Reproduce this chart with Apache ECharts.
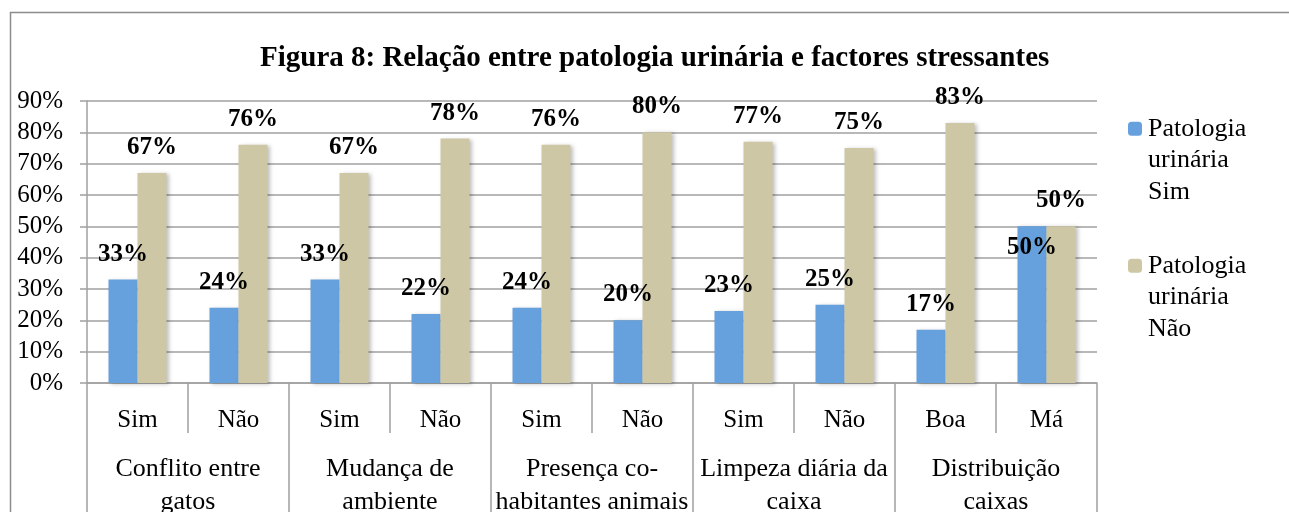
<!DOCTYPE html>
<html>
<head>
<meta charset="utf-8">
<title>Figura 8</title>
<script src="https://cdn.jsdelivr.net/npm/echarts@6/dist/echarts.min.js"></script>
<style>
    html, body { margin: 0; padding: 0; background: #fff; }
    #chart { width: 1289px; height: 512px; }
</style>
</head>
<body>
<div id="chart"></div>
<script>
//分类数据
var subCategories = ['Sim', 'Não', 'Sim', 'Não', 'Sim', 'Não', 'Sim', 'Não', 'Boa', 'Má'];
var groupCategories = ['Conflito entre\ngatos', 'Mudança de\nambiente', 'Presença co-\nhabitantes animais', 'Limpeza diária da\ncaixa', 'Distribuição\ncaixas'];
//系列数据(%)
var seriesNames = ['Patologia\nurinária\nSim', 'Patologia\nurinária\nNão'];
var valuesSim = [33, 24, 33, 22, 24, 20, 23, 25, 17, 50];
var valuesNao = [67, 76, 67, 78, 76, 80, 77, 75, 83, 50];
var yTicks = [0, 10, 20, 30, 40, 50, 60, 70, 80, 90];

var FONT = '"Liberation Serif", "DejaVu Serif", serif';
var LINE = '#a0a0a0';

var chartManager = {
    initPage: function () {
        var myChart = echarts.init(document.getElementById('chart'));
        myChart.setOption(chartManager.buildOption());
    },
    //数据标签
    barLabel: function () {
        return {
            show: true,
            position: 'top',
            distance: 13,
            formatter: '{c}%',
            color: '#000',
            fontFamily: FONT,
            fontWeight: 'bold',
            fontSize: 25
        };
    },
    //图例，两个独立图例，文字第一行对齐图标
    buildLegend: function (name, top) {
        return {
            data: [name],
            orient: 'vertical',
            left: 1128,
            top: top,
            itemWidth: 14,
            itemHeight: 14,
            itemGap: 0,
            padding: 0,
            selectedMode: false,
            formatter: function (n) { return '\n\n' + n; },
            textStyle: {
                fontFamily: FONT,
                fontSize: 26,
                lineHeight: 31.5,
                color: '#000',
                padding: [8, 0, 0, 1]
            }
        };
    },
    buildOption: function () {
        var shadow = { shadowBlur: 4, shadowColor: 'rgba(0,0,0,0.25)', shadowOffsetX: 2, shadowOffsetY: 1 };
        var simData = valuesSim.map(function (v, i) {
            //最后一个标签放在柱内(与原图一致)
            if (i === valuesSim.length - 1)
                return { value: v, label: { position: 'insideTop', distance: 9 } };
            return v;
        });
        return {
            backgroundColor: '#fff',
            animation: false,
            title: {
                text: 'Figura 8: Relação entre patologia urinária e factores stressantes',
                left: 260,
                top: 44,
                padding: 0,
                textStyle: { fontFamily: FONT, fontWeight: 'bold', fontSize: 29, color: '#000' }
            },
            legend: [
                chartManager.buildLegend(seriesNames[0], 129 - 83),
                chartManager.buildLegend(seriesNames[1], 266 - 83)
            ],
            //固定绘图区，不随标签收缩
            grid: { left: 87, right: 192, top: 101, bottom: 129, containLabel: false, outerBoundsMode: 'none' },
            xAxis: [
                {
                    type: 'category',
                    data: subCategories,
                    position: 'bottom',
                    offset: 0,
                    axisLine: { lineStyle: { color: LINE, width: 1.5 } },
                    axisTick: { show: true, interval: 0, length: 50, lineStyle: { color: LINE, width: 1.5 } },
                    axisLabel: { interval: 0, margin: 25, color: '#000', fontFamily: FONT, fontSize: 25 }
                },
                {
                    type: 'category',
                    data: groupCategories,
                    position: 'bottom',
                    offset: 0,
                    axisLine: { show: false },
                    axisTick: { show: true, interval: 0, length: 140, lineStyle: { color: LINE, width: 1.5 } },
                    axisLabel: { interval: 0, margin: 70, color: '#000', fontFamily: FONT, fontSize: 26, lineHeight: 33 }
                }
            ],
            yAxis: {
                type: 'value',
                min: yTicks[0],
                max: yTicks[yTicks.length - 1],
                interval: 10,
                axisLine: { show: true, lineStyle: { color: LINE, width: 1.5 } },
                axisTick: { show: true, length: 7, lineStyle: { color: LINE, width: 1.5 } },
                splitLine: { lineStyle: { color: LINE, width: 1.5 } },
                axisLabel: { margin: 24, formatter: '{value}%', color: '#000', fontFamily: FONT, fontSize: 25, padding: [4, 0, 0, 0] }
            },
            series: [
                {
                    name: seriesNames[0],
                    type: 'bar',
                    xAxisIndex: 0,
                    data: simData,
                    barWidth: 29,
                    barGap: '0%',
                    itemStyle: Object.assign({ color: '#66a1dd' }, shadow),
                    label: chartManager.barLabel()
                },
                {
                    name: seriesNames[1],
                    type: 'bar',
                    xAxisIndex: 0,
                    data: valuesNao,
                    barWidth: 29,
                    barGap: '0%',
                    itemStyle: Object.assign({ color: '#cdc7a5' }, shadow),
                    label: chartManager.barLabel()
                }
            ],
            //外框
            graphic: [{
                type: 'rect',
                silent: true,
                z: -1,
                shape: { x: 10.5, y: 12.5, width: 1300, height: 560 },
                style: { fill: 'none', stroke: '#8c8c8c', lineWidth: 1.5 }
            }]
        };
    }
};

chartManager.initPage();
</script>
</body>
</html>
